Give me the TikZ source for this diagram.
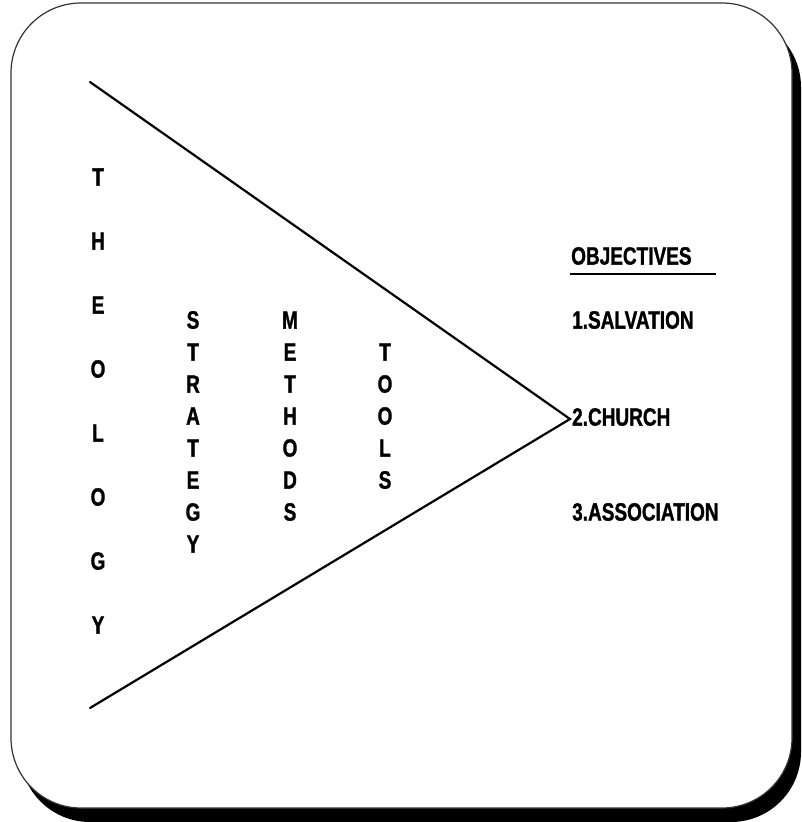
\documentclass[tikz,border=0pt]{standalone}
\usepackage{fontspec}
\setmainfont{Liberation Sans}[FakeStretch=0.76,BoldFeatures={FakeBold=1.2}]
\begin{document}
\begin{tikzpicture}[x=1pt,y=-1pt,
  lab/.style={inner sep=0pt,font=\fontsize{25}{25}\selectfont\bfseries},
  labw/.style={lab,anchor=west},
  edge/.style={line width=2.2pt,line cap=round}]
\useasboundingbox (0,0) rectangle (801,822);
% shadow and frame
\fill[black,rounded corners=70pt] (20,17) rectangle (801,822);
\filldraw[fill=white,draw=black!80,line width=1.2pt,rounded corners=70pt] (11,3) rectangle (792,808);
% triangle
\coordinate (top) at (90,82);
\coordinate (bot) at (90,708);
\coordinate (apex) at (570,419);
\draw[edge] (top) -- (apex) -- (bot);
% vertical words
\foreach \l [count=\i] in {T,H,E,O,L,O,G,Y}
  \node[lab] (th\i) at (98,{177+64*(\i-1)}) {\l};
\foreach \l [count=\i] in {S,T,R,A,T,E,G,Y}
  \node[lab] (st\i) at (193,{320+32*(\i-1)}) {\l};
\foreach \l [count=\i] in {M,E,T,H,O,D,S}
  \node[lab] (me\i) at (290,{320+32*(\i-1)}) {\l};
\foreach \l [count=\i] in {T,O,O,L,S}
  \node[lab] (to\i) at (385,{352+32*(\i-1)}) {\l};
% objectives
\node[labw] (obj) at (571,256) {OBJECTIVES};
\coordinate (ulA) at (570,274);
\coordinate (ulB) at (716,274);
\draw[line width=2.2pt] (ulA) -- (ulB);
\node[labw] (o1) at (572,320) {1.SALVATION};
\node[labw] (o2) at (572,417) {2.CHURCH};
\node[labw] (o3) at (572,512) {3.ASSOCIATION};
\end{tikzpicture}
\end{document}
